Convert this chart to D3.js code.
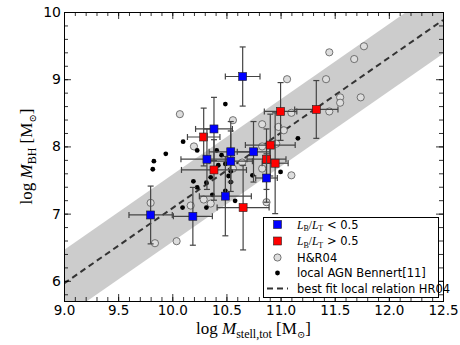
<!DOCTYPE html>
<html>
<head>
<meta charset="utf-8">
<script src="https://cdn.jsdelivr.net/npm/d3@7"></script>
<style>
    body { margin: 0; background: #fff; }
    svg { display: block; }
    .tick text { font-family: "DejaVu Sans", sans-serif; }
</style>
</head>
<body>
<div id="chart"></div>
<script>

/* ------------------------------
   DATA
------------------------------ */

const xTicks = [9.0, 9.5, 10.0, 10.5, 11.0, 11.5, 12.0, 12.5];
const yTicks = [6, 7, 8, 9, 10];

// L_B/L_T < 0.5
const blueX    = [10.65, 10.385, 10.32, 10.54, 10.54, 10.75, 10.87, 10.49, 10.19, 9.80];
const blueY    = [9.04, 8.26, 7.81, 7.92, 7.78, 7.92, 7.53, 7.26, 6.96, 6.98];
const blueXerr = [0.16, 0.17, 0.24, 0.20, 0.20, 0.15, 0.10, 0.24, 0.18, 0.20];
const blueYerr = [0.44, 0.47, 0.45, 0.45, 0.45, 0.45, 0.36, 0.59, 0.43, 0.43];

// L_B/L_T > 0.5
const redX    = [10.29, 10.385, 10.905, 10.87, 10.95, 10.654, 11.0, 11.33];
const redY    = [8.14, 7.65, 8.02, 7.81, 7.75, 7.09, 8.52, 8.55];
const redXerr = [0.15, 0.30, 0.23, 0.18, 0.12, 0.24, 0.15, 0.20];
const redYerr = [0.43, 0.45, 0.46, 0.45, 0.75, 0.63, 0.43, 0.43];

// H&R04
const hrX = [10.07, 10.20, 10.56, 11.06, 11.45, 11.77, 11.68, 11.42, 11.55, 11.55, 11.74, 11.45, 11.10,
             10.83, 10.98, 11.03, 10.96, 10.83, 10.645, 10.83, 10.56, 10.87, 10.29, 10.355, 10.17,
             9.80, 9.84, 10.04, 11.10];
const hrY = [8.48, 8.00, 8.39, 9.00, 9.40, 9.49, 9.30, 9.00, 8.73, 8.65, 8.73, 8.52, 8.50,
             8.33, 8.29, 8.24, 8.04, 8.00, 7.76, 7.67, 7.67, 7.17, 7.21, 7.15, 7.12,
             7.16, 6.56, 6.59, 7.57];

// local AGN Bennert[11]
const agnX = [10.10, 9.94, 9.83, 9.82, 10.195, 10.23, 10.23, 10.49, 10.41, 10.455, 10.425, 10.54, 10.52,
              10.54, 10.355, 10.315, 10.37, 10.49, 10.58, 10.095, 10.74, 11.0, 10.315, 11.16, 10.49];
const agnY = [8.07, 7.89, 7.78, 7.66, 7.48, 7.39, 7.94, 8.63, 7.94, 7.87, 7.72, 7.63, 7.56,
              7.47, 7.54, 7.46, 7.28, 7.34, 7.19, 7.09, 7.57, 7.62, 7.09, 8.12, 7.74];

// best fit local relation HR04: log M_BH = a + b (log M - 11), scatter band
const fitA = 8.20;
const fitB = 1.12;
const fitScatter = 0.5;
const fitRange = [9.0, 12.5];

/* ------------------------------
   SETUP
------------------------------ */

const width = 460;
const height = 345;
const margin = { top: 12, right: 17, bottom: 44, left: 64 };

const svg = d3.select("#chart")
    .append("svg")
    .attr("width", width)
    .attr("height", height);

const x = d3.scaleLinear().domain([9, 12.5]).range([margin.left, width - margin.right]);
const y = d3.scaleLinear().domain([5.7, 10]).range([height - margin.bottom, margin.top]);

const plotBottom = y.range()[0], plotTop = y.range()[1];
const plotLeft = x.range()[0], plotRight = x.range()[1];

svg.append("clipPath")
    .attr("id", "clip")
    .append("rect")
    .attr("x", plotLeft)
    .attr("y", plotTop)
    .attr("width", plotRight - plotLeft)
    .attr("height", plotBottom - plotTop);

const plot = svg.append("g").attr("clip-path", "url(#clip)");

/* ------------------------------
   BAND + FIT LINE
------------------------------ */

const fit = v => fitA + fitB * (v - 11);

const area = d3.area()
    .x(d => x(d))
    .y0(d => y(fit(d) - fitScatter))
    .y1(d => y(fit(d) + fitScatter));

plot.append("path")
    .datum(fitRange)
    .attr("d", area)
    .attr("fill", "#cccccc");

plot.append("path")
    .datum(fitRange)
    .attr("d", d3.line().x(d => x(d)).y(d => y(fit(d))))
    .attr("fill", "none")
    .attr("stroke", "#333")
    .attr("stroke-width", 2)
    .attr("stroke-dasharray", "6,4");

/* ------------------------------
   POINTS
------------------------------ */

plot.selectAll("circle.hr")
    .data(d3.zip(hrX, hrY))
    .enter()
    .append("circle")
    .attr("class", "hr")
    .attr("cx", d => x(d[0]))
    .attr("cy", d => y(d[1]))
    .attr("r", 3.6)
    .attr("fill", "#dddddd")
    .attr("stroke", "#555")
    .attr("stroke-width", 0.8);

plot.selectAll("circle.agn")
    .data(d3.zip(agnX, agnY))
    .enter()
    .append("circle")
    .attr("class", "agn")
    .attr("cx", d => x(d[0]))
    .attr("cy", d => y(d[1]))
    .attr("r", 2.4)
    .attr("fill", "#000");

function drawSquares(xs, ys, xe, ye, color) {
    const data = d3.zip(xs, ys, xe, ye);
    const cap = 3;
    const g = plot.append("g")
        .attr("stroke", "#444")
        .attr("stroke-width", 1.2);

    data.forEach(d => {
        const cx = x(d[0]), cy = y(d[1]);
        const x0 = x(d[0] - d[2]), x1 = x(d[0] + d[2]);
        const y0 = y(d[1] - d[3]), y1 = y(d[1] + d[3]);
        g.append("line").attr("x1", x0).attr("x2", x1).attr("y1", cy).attr("y2", cy);
        g.append("line").attr("x1", cx).attr("x2", cx).attr("y1", y0).attr("y2", y1);
        g.append("line").attr("x1", x0).attr("x2", x0).attr("y1", cy - cap).attr("y2", cy + cap);
        g.append("line").attr("x1", x1).attr("x2", x1).attr("y1", cy - cap).attr("y2", cy + cap);
        g.append("line").attr("x1", cx - cap).attr("x2", cx + cap).attr("y1", y0).attr("y2", y0);
        g.append("line").attr("x1", cx - cap).attr("x2", cx + cap).attr("y1", y1).attr("y2", y1);
    });

    plot.append("g")
        .selectAll("rect")
        .data(data)
        .enter()
        .append("rect")
        .attr("x", d => x(d[0]) - 4)
        .attr("y", d => y(d[1]) - 4)
        .attr("width", 8)
        .attr("height", 8)
        .attr("fill", color)
        .attr("stroke", "#222")
        .attr("stroke-width", 0.6);
}

drawSquares(redX, redY, redXerr, redYerr, "#ff0000");
drawSquares(blueX, blueY, blueXerr, blueYerr, "#0000ff");

/* ------------------------------
   AXES (ticks inward on all sides)
------------------------------ */

const xMinor = d3.range(90, 126).map(v => v / 10);
const yMinor = d3.range(29, 51).map(v => v / 5);

function styleAxis(g) {
    g.select(".domain").attr("stroke", "#000").attr("stroke-width", 1);
    g.selectAll(".tick line").attr("stroke", "#000").attr("stroke-width", 0.8);
}

svg.append("g").attr("transform", `translate(0,${plotBottom})`)
    .call(d3.axisBottom(x).tickValues(xMinor).tickSize(-4).tickFormat(""))
    .call(styleAxis);
svg.append("g").attr("transform", `translate(0,${plotBottom})`)
    .call(d3.axisBottom(x).tickValues(xTicks).tickSize(-7).tickPadding(4).tickFormat(d3.format(".1f")))
    .call(styleAxis)
    .selectAll("text").attr("font-size", 13.5).attr("fill", "#000");

svg.append("g").attr("transform", `translate(0,${plotTop})`)
    .call(d3.axisTop(x).tickValues(xMinor).tickSize(-4).tickFormat(""))
    .call(styleAxis);
svg.append("g").attr("transform", `translate(0,${plotTop})`)
    .call(d3.axisTop(x).tickValues(xTicks).tickSize(-7).tickFormat(""))
    .call(styleAxis);

svg.append("g").attr("transform", `translate(${plotLeft},0)`)
    .call(d3.axisLeft(y).tickValues(yMinor).tickSize(-4).tickFormat(""))
    .call(styleAxis);
svg.append("g").attr("transform", `translate(${plotLeft},0)`)
    .call(d3.axisLeft(y).tickValues(yTicks).tickSize(-7).tickPadding(3).tickFormat(d3.format("d")))
    .call(styleAxis)
    .selectAll("text").attr("font-size", 14).attr("fill", "#000");

svg.append("g").attr("transform", `translate(${plotRight},0)`)
    .call(d3.axisRight(y).tickValues(yMinor).tickSize(-4).tickFormat(""))
    .call(styleAxis);
svg.append("g").attr("transform", `translate(${plotRight},0)`)
    .call(d3.axisRight(y).tickValues(yTicks).tickSize(-7).tickFormat(""))
    .call(styleAxis);

/* ------------------------------
   AXIS LABELS
------------------------------ */

const serif = "'Liberation Serif', 'DejaVu Serif', serif";

const xl = svg.append("text")
    .attr("x", (plotLeft + plotRight) / 2)
    .attr("y", 334)
    .attr("text-anchor", "middle")
    .attr("font-family", serif)
    .attr("font-size", 17);
xl.append("tspan").text("log ");
xl.append("tspan").attr("font-style", "italic").text("M");
xl.append("tspan").attr("font-size", 12).attr("dy", 4).text("stell,tot");
xl.append("tspan").attr("dy", -4).text("  [M");
xl.append("tspan").attr("font-size", 10).attr("dy", 4).text("⊙");
xl.append("tspan").attr("dy", -4).text("]");

const yl = svg.append("text")
    .attr("transform", `translate(32,${(plotTop + plotBottom) / 2}) rotate(-90)`)
    .attr("text-anchor", "middle")
    .attr("font-family", serif)
    .attr("font-size", 17);
yl.append("tspan").text("log ");
yl.append("tspan").attr("font-style", "italic").text("M");
yl.append("tspan").attr("font-size", 12).attr("dy", 4).text("BH");
yl.append("tspan").attr("dy", -4).text("  [M");
yl.append("tspan").attr("font-size", 10).attr("dy", 4).text("⊙");
yl.append("tspan").attr("dy", -4).text("]");

/* ------------------------------
   LEGEND
------------------------------ */

const legend = svg.append("g");
legend.append("rect")
    .attr("x", 263.5).attr("y", 217.5)
    .attr("width", 175).attr("height", 80)
    .attr("fill", "#fff")
    .attr("stroke", "#000")
    .attr("stroke-width", 1);

const rowY = [224.5, 241, 257.5, 273, 288.5];
const mx = 277.5, tx = 297;
const sans = "'DejaVu Sans', sans-serif";

legend.append("rect").attr("x", mx - 4).attr("y", rowY[0] - 4).attr("width", 8).attr("height", 8)
    .attr("fill", "#0000ff").attr("stroke", "#222").attr("stroke-width", 0.6);
legend.append("rect").attr("x", mx - 4).attr("y", rowY[1] - 4).attr("width", 8).attr("height", 8)
    .attr("fill", "#ff0000").attr("stroke", "#222").attr("stroke-width", 0.6);
legend.append("circle").attr("cx", mx).attr("cy", rowY[2]).attr("r", 3.6)
    .attr("fill", "#dddddd").attr("stroke", "#555").attr("stroke-width", 0.8);
legend.append("circle").attr("cx", mx).attr("cy", rowY[3]).attr("r", 2.4).attr("fill", "#000");
legend.append("line").attr("x1", 267).attr("x2", 288).attr("y1", rowY[4]).attr("y2", rowY[4])
    .attr("stroke", "#333").attr("stroke-width", 2).attr("stroke-dasharray", "6,4");

function ratioLabel(row, sign) {
    const t = legend.append("text")
        .attr("x", tx).attr("y", rowY[row] + 4)
        .attr("font-family", sans).attr("font-size", 11.5);
    t.append("tspan").attr("font-family", serif).attr("font-style", "italic").text("L");
    t.append("tspan").attr("font-family", serif).attr("font-size", 8).attr("dy", 2.5).text("B");
    t.append("tspan").attr("font-family", serif).attr("dy", -2.5).text("/");
    t.append("tspan").attr("font-family", serif).attr("font-style", "italic").text("L");
    t.append("tspan").attr("font-family", serif).attr("font-size", 8).attr("dy", 2.5).text("T");
    t.append("tspan").attr("dy", -2.5).text(" " + sign + " 0.5");
}
ratioLabel(0, "<");
ratioLabel(1, ">");

const plainLabels = ["H&R04", "local AGN Bennert[11]", "best fit local relation HR04"];
plainLabels.forEach((s, i) => {
    legend.append("text")
        .attr("x", tx).attr("y", rowY[i + 2] + 4)
        .attr("font-family", sans).attr("font-size", 11.5)
        .text(s);
});

</script>
</body>
</html>
